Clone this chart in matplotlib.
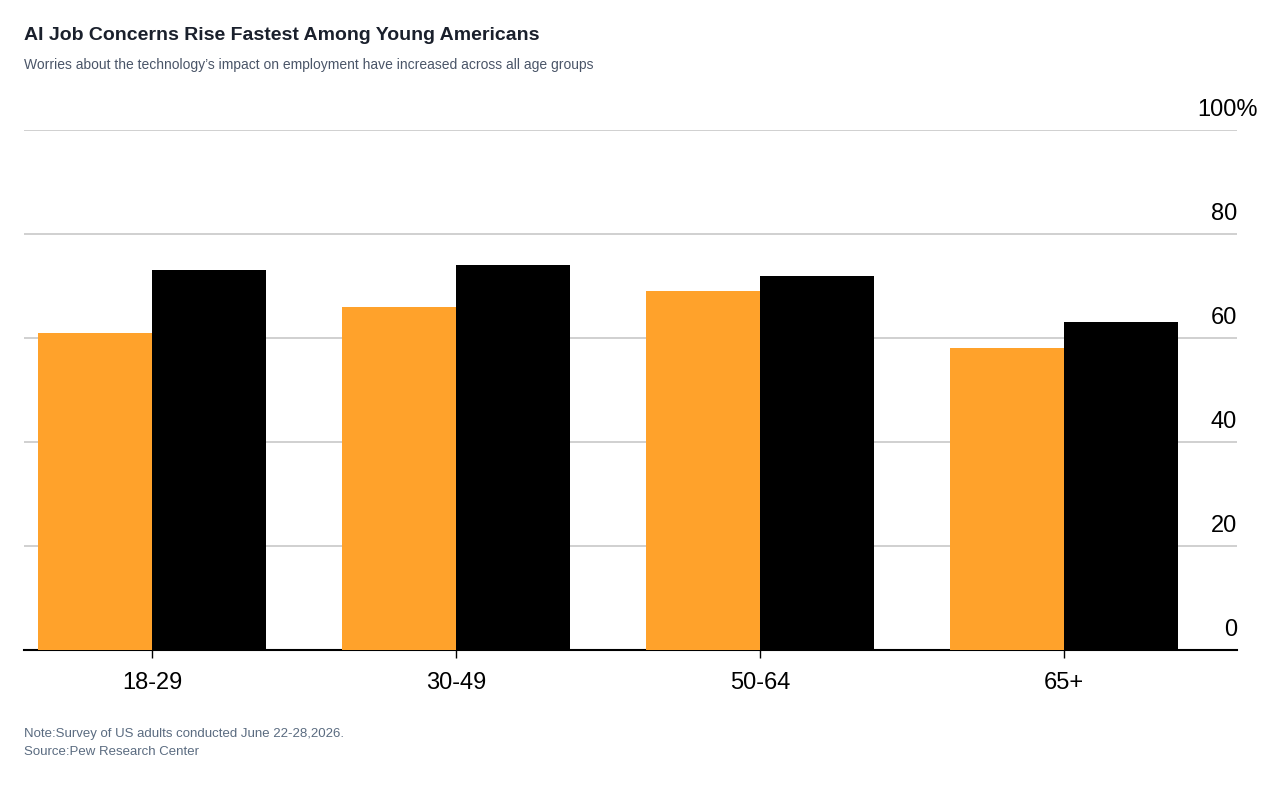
import matplotlib
matplotlib.use("Agg")
import matplotlib.pyplot as plt
import numpy as np

plt.rcParams['font.family'] = ['Liberation Sans', 'DejaVu Sans']

age_groups = ["18-29", "30-49", "50-64", "65+"]
earlier = [61, 66, 69, 58]
recent = [73, 74, 72, 63]
y_ticks = [0, 20, 40, 60, 80, 100]

W, H = 1284, 788
fig = plt.figure(figsize=(W / 100, H / 100), dpi=100)
ax = fig.add_axes([24 / W, 1 - 650 / H, (1237 - 24) / W, (650 - 130) / H])

x = np.arange(len(age_groups))
bw = 0.375
ax.bar(x - bw / 2, earlier, bw, color="#ffa22b", zorder=3)
ax.bar(x + bw / 2, recent, bw, color="#000000", zorder=3)

ax.set_xlim(-0.421, 3.569)
ax.set_ylim(0, 100)
for v in y_ticks[1:]:
    ax.axhline(v, color="#c8c8c8", lw=1.2, zorder=1)
for v in y_ticks:
    label = f"{v}%" if v == 100 else str(v)
    xpos = (1258 - 24) / (1237 - 24) if v == 100 else 1.0
    ax.text(xpos, v + 1.8, label, transform=ax.get_yaxis_transform(),
            ha="right", va="bottom", fontsize=17, color="#000000")

ax.set_yticks([])
ax.set_xticks(x)
ax.set_xticklabels(age_groups, fontsize=17)
ax.tick_params(axis="x", length=6, width=1, pad=10, color="#000000")
for s in ["top", "right", "left"]:
    ax.spines[s].set_visible(False)
ax.spines["bottom"].set_linewidth(1.5)

fig.text(24 / W, 1 - 36 / H, "AI Job Concerns Rise Fastest Among Young Americans",
         fontsize=14, fontweight="bold", color="#1a202c", va="center")
fig.text(24 / W, 1 - 65 / H,
         "Worries about the technology\u2019s impact on employment have increased across all age groups",
         fontsize=10, color="#4a5568", va="center")
fig.text(24 / W, 1 - 734 / H, "Note:Survey of US adults conducted June 22-28,2026.",
         fontsize=9.5, color="#5a6b80", va="center")
fig.text(24 / W, 1 - 752 / H, "Source:Pew Research Center",
         fontsize=9.5, color="#5a6b80", va="center")

fig.savefig("out.png", dpi=100)
